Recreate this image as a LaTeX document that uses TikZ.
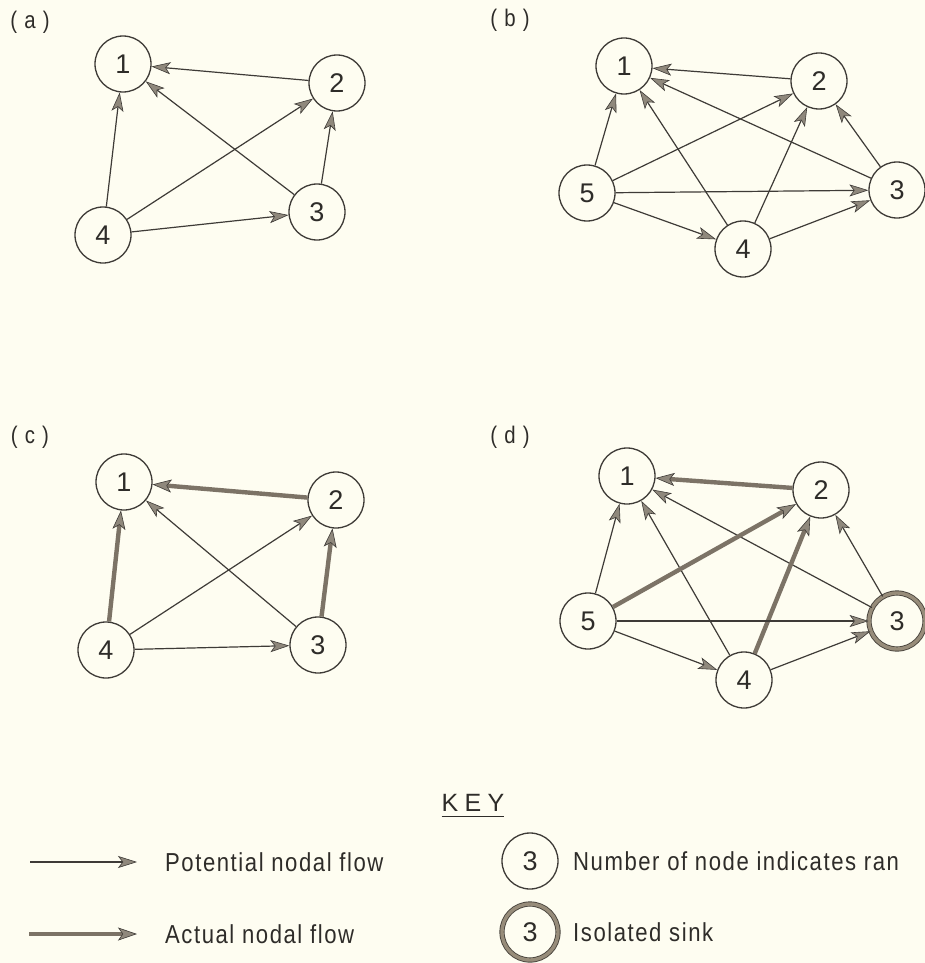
\documentclass[tikz,border=0pt]{standalone}
\usepackage{fontspec}
\setmainfont{Liberation Sans}
\newfontfamily\condfont{Liberation Sans}[FakeStretch=0.85, LetterSpace=6]
\usetikzlibrary{arrows.meta}
\definecolor{bg}{HTML}{FEFDF1}
\definecolor{ink}{HTML}{2E2C29}
\definecolor{edgec}{HTML}{3E3B37}
\definecolor{tipfill}{HTML}{8F887C}
\definecolor{flowc}{HTML}{7C7366}
\definecolor{sinkc}{HTML}{978C7A}
\definecolor{sinkedge}{HTML}{4A453E}
\begin{document}
\begin{tikzpicture}[x=1pt,y=-1pt,
  nd/.style={circle, draw=edgec, line width=1.3pt, minimum size=56pt, inner sep=0pt,
    font=\fontsize{27}{27}\selectfont, text=ink},
  sinknd/.style={nd, draw=sinkedge, line width=0.9pt, double=sinkc, double distance=3.4pt},
  pot/.style={draw=edgec, line width=1.2pt,
    -{Stealth[length=19pt,width=12pt,inset=4.5pt,color=edgec,fill=tipfill,line width=0.6pt]}},
  act/.style={draw=flowc, line width=4.4pt,
    -{Stealth[length=19pt,width=13pt,inset=4.5pt,color=edgec,fill=tipfill,line width=0.6pt]}},
  lab/.style={font=\fontsize{24}{24}\condfont, text=ink, inner sep=0pt},
  keytxt/.style={font=\fontsize{26}{26}\condfont, text=ink, anchor=west, inner sep=0pt}
]
\fill[bg] (0,0) rectangle (925,963);
\useasboundingbox (0,0) rectangle (925,963);

% ---- panel (a)
\node[lab] (la) at (30,22) {( a )};
\node[nd] (a1) at (123,64) {1};
\node[nd] (a2) at (337,83) {2};
\node[nd] (a3) at (317,212) {3};
\node[nd] (a4) at (103,235) {4};
\draw[pot] (a2) -- (a1);
\draw[pot] (a3) -- (a1);
\draw[pot] (a4) -- (a1);
\draw[pot] (a4) -- (a2);
\draw[pot] (a3) -- (a2);
\draw[pot] (a4) -- (a3);

% ---- panel (b)
\node[lab] (lb) at (510,20) {( b )};
\node[nd] (b1) at (624,66) {1};
\node[nd] (b2) at (819,81) {2};
\node[nd] (b3) at (897,190) {3};
\node[nd] (b4) at (743,249) {4};
\node[nd] (b5) at (587,193) {5};
\draw[pot] (b2) -- (b1);
\draw[pot] (b5) -- (b1);
\draw[pot] (b4) -- (b1);
\draw[pot] (b3) -- (b1);
\draw[pot] (b5) -- (b2);
\draw[pot] (b4) -- (b2);
\draw[pot] (b3) -- (b2);
\draw[pot] (b5) -- (b3);
\draw[pot] (b4) -- (b3);
\draw[pot] (b5) -- (b4);

% ---- panel (c)
\node[lab] (lc) at (30,437) {( c )};
\node[nd] (c1) at (124,482) {1};
\node[nd] (c2) at (336,500) {2};
\node[nd] (c3) at (318,645) {3};
\node[nd] (c4) at (106,650) {4};
\draw[act] (c2) -- (c1);
\draw[pot] (c3) -- (c1);
\draw[act] (c4) -- (c1);
\draw[pot] (c4) -- (c2);
\draw[act] (c3) -- (c2);
\draw[pot] (c4) -- (c3);

% ---- panel (d)
\node[lab] (ld) at (510,437) {( d )};
\node[nd] (d1) at (627,476) {1};
\node[nd] (d2) at (821,490) {2};
\node[sinknd] (d3) at (897,621) {3};
\node[nd] (d4) at (744,680) {4};
\node[nd] (d5) at (588,621) {5};
\draw[act] (d2) -- (d1);
\draw[pot] (d5) -- (d1);
\draw[pot] (d4) -- (d1);
\draw[pot] (d3) -- (d1);
\draw[act] (d5) -- (d2);
\draw[act] (d4) -- (d2);
\draw[pot] (d3) -- (d2);
\draw[pot] (d5) -- (d3);
\draw[pot] (d4) -- (d3);
\draw[pot] (d5) -- (d4);

% ---- key
\node[font=\fontsize{25}{25}\selectfont\addfontfeature{LetterSpace=25}, text=ink, inner sep=0pt] (key) at (473,803) {KEY};
\draw[ink, line width=1.6pt] ([yshift=-5pt]key.base west) -- ([yshift=-5pt]key.base east);

\coordinate (k1s) at (30,862);
\coordinate (k1e) at (137,862);
\coordinate (k2s) at (29,934);
\coordinate (k2e) at (137,934);
\draw[pot] (k1s) -- (k1e);
\draw[act] (k2s) -- (k2e);
\node[keytxt] (t1) at (165,862) {Potential nodal flow};
\node[keytxt] (t2) at (165,934) {Actual nodal flow};

\node[nd] (kc1) at (530,861) {3};
\node[sinknd] (kc2) at (530,932) {3};
\node[keytxt] (t3) at (573,861) {Number of node indicates ran};
\node[keytxt] (t4) at (573,932) {Isolated sink};
\end{tikzpicture}
\end{document}
